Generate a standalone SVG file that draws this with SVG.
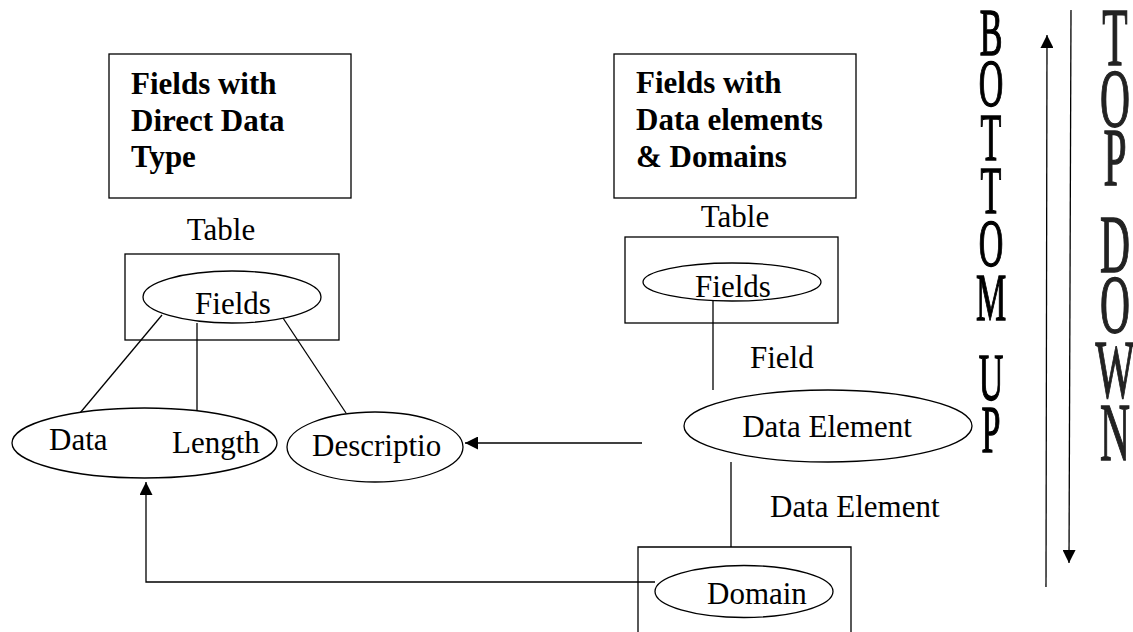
<svg xmlns="http://www.w3.org/2000/svg" width="1133" height="632" viewBox="0 0 1133 632">
  <style>
    .box { fill: none; stroke: #000; stroke-width: 1.3; }
    .ell { fill: #fff; stroke: #000; stroke-width: 1.3; }
    .lbl { font-family: "Liberation Serif", "Times New Roman", serif; font-size: 31px; fill: #000; }
    .hdr { font-family: "Liberation Serif", "Times New Roman", serif; font-size: 31px; font-weight: bold; fill: #000; }
    .big { font-family: "Liberation Serif", "Times New Roman", serif; text-anchor: middle; stroke-width: 1.4; }
    .con { fill: none; stroke: #000; stroke-width: 1.3; }
  </style>
  <defs>
    <marker id="ah" viewBox="0 0 12 12" refX="12" refY="6" markerWidth="13" markerHeight="13" markerUnits="userSpaceOnUse" orient="auto">
      <path d="M0,0 L12,6 L0,12 z" fill="#000"/>
    </marker>
  </defs>
  <rect width="1133" height="632" fill="#fff"/>

  <g id="header-left">
    <rect class="box" x="109" y="54" width="242" height="144"/>
    <text class="hdr" x="131" y="94">Fields with</text>
    <text class="hdr" x="131" y="131">Direct Data</text>
    <text class="hdr" x="131" y="167">Type</text>
  </g>

  <g id="header-right">
    <rect class="box" x="614" y="54" width="242" height="144"/>
    <text class="hdr" x="636" y="93">Fields with</text>
    <text class="hdr" x="636" y="130">Data elements</text>
    <text class="hdr" x="636" y="167">&amp; Domains</text>
  </g>

  <g id="table-left">
    <text class="lbl" x="221" y="240" text-anchor="middle">Table</text>
    <rect class="box" x="125" y="254" width="214" height="86"/>
  </g>

  <g id="fields-left">
    <ellipse class="ell" cx="232" cy="297" rx="89" ry="26"/>
    <text class="lbl" x="233" y="314" text-anchor="middle">Fields</text>
  </g>

  <g id="table-right">
    <text class="lbl" x="735" y="227" text-anchor="middle">Table</text>
    <rect class="box" x="625" y="237" width="213" height="86"/>
  </g>

  <g id="fields-right">
    <ellipse class="ell" cx="732" cy="282" rx="89" ry="19"/>
    <text class="lbl" x="733" y="297" text-anchor="middle">Fields</text>
  </g>

  <g id="connectors">
    <line class="con" x1="162" y1="315" x2="80" y2="413"/>
    <line class="con" x1="197" y1="323" x2="197" y2="411"/>
    <line class="con" x1="283" y1="318" x2="346" y2="413"/>
    <line class="con" x1="713" y1="300" x2="713" y2="390"/>
    <line class="con" x1="731" y1="462" x2="731" y2="547"/>
    <line class="con" x1="642" y1="443" x2="465" y2="443" stroke="#555" marker-end="url(#ah)"/>
    <polyline class="con" points="655,582 146,582 146,482" marker-end="url(#ah)"/>
    <line class="con" x1="1046" y1="587" x2="1047" y2="35" marker-end="url(#ah)"/>
    <line class="con" x1="1071" y1="10" x2="1069" y2="563" marker-end="url(#ah)"/>
  </g>

  <g id="data-length">
    <ellipse class="ell" cx="144.5" cy="443" rx="132.5" ry="35"/>
    <text class="lbl" x="49" y="450">Data</text>
    <text class="lbl" x="172" y="453">Length</text>
  </g>

  <g id="description">
    <ellipse class="ell" cx="375" cy="447" rx="88" ry="35"/>
    <text class="lbl" x="312" y="456">Descriptio</text>
  </g>

  <g id="field-label">
    <text class="lbl" x="750" y="368">Field</text>
  </g>

  <g id="data-element">
    <ellipse class="ell" cx="828" cy="426" rx="144" ry="36"/>
    <text class="lbl" x="827" y="437" text-anchor="middle">Data Element</text>
  </g>

  <g id="data-element-label">
    <text class="lbl" x="770" y="517">Data Element</text>
  </g>

  <g id="domain">
    <path class="box" d="M638,640 V547 H851 V640"/>
    <ellipse class="ell" cx="744" cy="591.5" rx="89" ry="26"/>
    <text class="lbl" x="707" y="604">Domain</text>
  </g>

  <g id="bottom-up" transform="scale(0.5,1)" fill="#000" stroke="#000">
    <text class="big" font-size="68" x="1982" y="55">B</text>
    <text class="big" font-size="68" x="1982" y="106">O</text>
    <text class="big" font-size="68" x="1982" y="160">T</text>
    <text class="big" font-size="68" x="1982" y="213">T</text>
    <text class="big" font-size="68" x="1982" y="266">O</text>
    <text class="big" font-size="68" x="1982" y="320">M</text>
    <text class="big" font-size="68" x="1982" y="400">U</text>
    <text class="big" font-size="68" x="1982" y="452">P</text>
  </g>

  <g id="top-down" transform="scale(0.5,1)" fill="#222" stroke="#222">
    <text class="big" font-size="83" x="2230" y="65">T</text>
    <text class="big" font-size="83" x="2230" y="126">O</text>
    <text class="big" font-size="83" x="2230" y="185">P</text>
    <text class="big" font-size="83" x="2230" y="272">D</text>
    <text class="big" font-size="83" x="2230" y="332">O</text>
    <text class="big" font-size="83" x="2230" y="397">W</text>
    <text class="big" font-size="83" x="2230" y="460">N</text>
  </g>
</svg>
